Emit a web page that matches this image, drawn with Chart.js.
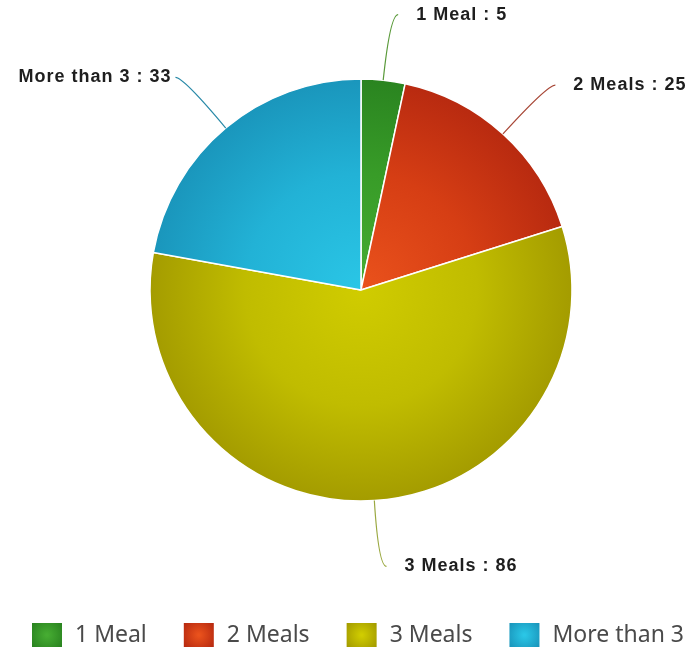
<!DOCTYPE html>
<html>
<head>
<meta charset="utf-8">
<title>Meals per day</title>
<script src="https://cdn.jsdelivr.net/npm/chart.js@4.4.1/dist/chart.umd.min.js"></script>
<style>
  html, body { margin: 0; padding: 0; background: #fff; }
  #wrap { width: 691px; height: 651px; position: relative; }
</style>
</head>
<body>
<div id="wrap"><canvas id="mealChart"></canvas></div>
<script>
const categories = ['1 Meal', '2 Meals', '3 Meals', 'More than 3'];
const counts = [5, 25, 86, 33];

// inner / middle / rim shades for each slice
const innerColors = ['#46ac32', '#ea521c', '#d0cc00', '#2ac6e6'];
const midColors = ['#389c28', '#d63e14', '#c0bc00', '#22b2d6'];
const rimColors = ['#2a8420', '#b82a10', '#a49c00', '#1a96bc'];
const lineColors = ['#5a9a3a', '#a84838', '#9aa840', '#2a8aa8'];

const PIE_RADIUS = 211;

function sliceFill(context) {
  const chart = context.chart;
  const area = chart.chartArea;
  const i = context.dataIndex;
  if (!area) return midColors[i];
  const cx = (area.left + area.right) / 2;
  const cy = (area.top + area.bottom) / 2;
  const g = chart.ctx.createRadialGradient(cx, cy, 0, cx, cy, PIE_RADIUS);
  g.addColorStop(0, innerColors[i]);
  g.addColorStop(0.55, midColors[i]);
  g.addColorStop(1, rimColors[i]);
  return g;
}

// leader lines + "label : value" next to each slice
const sliceLabels = {
  id: 'sliceLabels',
  afterDatasetsDraw(chart) {
    const ctx = chart.ctx;
    const meta = chart.getDatasetMeta(0);
    ctx.save();
    ctx.font = 'bold 18px "Liberation Sans", Arial, sans-serif';
    ctx.letterSpacing = '1px';
    ctx.textBaseline = 'middle';
    meta.data.forEach((arc, i) => {
      const p = arc.getProps(['x', 'y', 'startAngle', 'endAngle', 'outerRadius'], true);
      const mid = (p.startAngle + p.endAngle) / 2;
      const dx = Math.cos(mid), dy = Math.sin(mid);
      const side = dx >= 0 ? 1 : -1;
      const x0 = p.x + dx * p.outerRadius, y0 = p.y + dy * p.outerRadius;
      const x1 = p.x + dx * (p.outerRadius + 66), y1 = p.y + dy * (p.outerRadius + 66);
      const x2 = x1 + side * 8, y2 = y1;
      ctx.strokeStyle = lineColors[i];
      ctx.lineWidth = 1.2;
      ctx.beginPath();
      ctx.moveTo(x0, y0);
      ctx.quadraticCurveTo(x1, y1, x2, y2);
      ctx.stroke();
      ctx.fillStyle = '#1e1e1e';
      ctx.textAlign = side > 0 ? 'left' : 'right';
      ctx.fillText(categories[i] + ' : ' + counts[i], x2 + (side > 0 ? 18 : -4), y2);
    });
    ctx.restore();
  }
};

// legend row under the pie
const bottomLegend = {
  id: 'bottomLegend',
  afterDraw(chart) {
    const ctx = chart.ctx;
    ctx.save();
    ctx.font = '23px "Noto Sans", sans-serif';
    ctx.textBaseline = 'middle';
    ctx.textAlign = 'left';
    let x = 32;
    const top = 623, bw = 30, bh = 24;
    categories.forEach((name, i) => {
      const g = ctx.createRadialGradient(x + bw / 2, top + bh / 2, 1, x + bw / 2, top + bh / 2, bw * 0.6);
      g.addColorStop(0, innerColors[i]);
      g.addColorStop(1, rimColors[i]);
      ctx.fillStyle = g;
      ctx.fillRect(x, top, bw, bh);
      ctx.fillStyle = '#4a4a4a';
      ctx.fillText(name, x + 43, top + bh / 2);
      x += 43 + ctx.measureText(name).width + 37;
    });
    ctx.restore();
  }
};

new Chart(document.getElementById('mealChart'), {
  type: 'pie',
  data: {
    labels: categories,
    datasets: [{
      data: counts,
      backgroundColor: sliceFill,
      borderColor: '#ffffff',
      borderWidth: 1.5,
      hoverOffset: 0,
      radius: PIE_RADIUS
    }]
  },
  options: {
    responsive: true,
    maintainAspectRatio: false,
    animation: false,
    layout: { padding: { left: 31, right: 0, top: 0, bottom: 71 } },
    plugins: {
      legend: { display: false },
      tooltip: { enabled: false }
    }
  },
  plugins: [sliceLabels, bottomLegend]
});
</script>
</body>
</html>
